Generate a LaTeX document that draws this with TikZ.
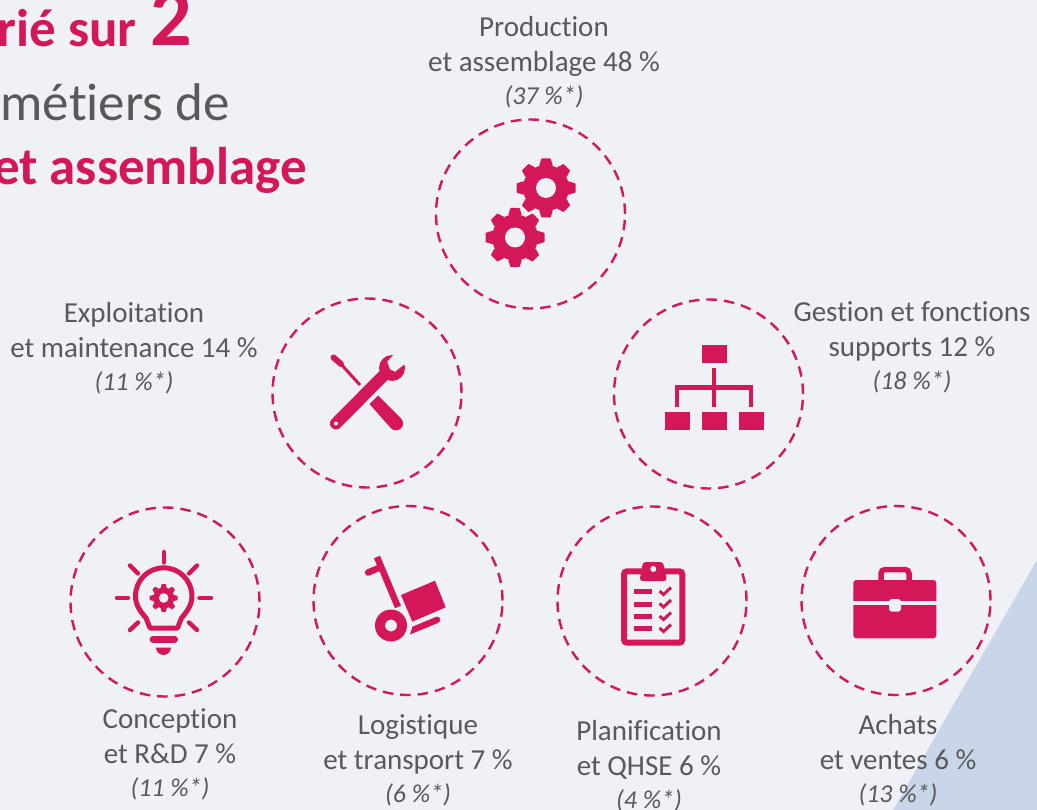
\documentclass[tikz,border=0pt]{standalone}
\usepackage{fontspec}
\setmainfont{Carlito}[Ligatures=NoCommon]
\definecolor{bgc}{HTML}{EFF1F6}
\definecolor{pinkc}{HTML}{D31759}
\definecolor{greyc}{HTML}{595959}
\definecolor{wedge}{HTML}{C9D5E8}
\tikzset{
  ring/.style={circle,draw=pinkc,line width=2.4pt,dash pattern=on 10.5pt off 7pt,minimum size=189pt,inner sep=0pt},
  lab/.style={text=greyc,align=center,anchor=north,inner sep=0pt,font=\fontsize{29}{35}\selectfont},
  ttl/.style={anchor=base east,inner sep=0pt},
}
\newcommand{\gearicon}[5]{% x y outer root hole
  \begin{scope}[shift={(#1,#2)}]
    \fill[pinkc] (0,0) circle (#4);
    \foreach \a in {0,45,...,315}{
      \fill[pinkc,rotate=\a,rounded corners=0.6pt] (#4-1,-0.30*#4) -- (#3,-0.20*#4) -- (#3,0.20*#4) -- (#4-1,0.30*#4) -- cycle;
    }
    \fill[bgc] (0,0) circle (#5);
  \end{scope}}
\newcommand{\pct}[1]{\fontsize{25.8}{30}\selectfont\itshape #1}
\begin{document}
\begin{tikzpicture}[x=1pt,y=-1pt]
\useasboundingbox (0,0) rectangle (1037,810);
\fill[bgc] (0,0) rectangle (1037,810);
\fill[wedge] (1037,560) -- (893,810) -- (1037,810) -- cycle;

% title
\node[ttl,text=pinkc,font=\fontsize{53}{53}\selectfont\bfseries] (t1) at (137,47) {rié sur};
\node[ttl,text=pinkc,font=\fontsize{82}{82}\selectfont\bfseries] (t2) at (192,46) {2};
\node[ttl,text=greyc,font=\fontsize{53}{53}\selectfont] (t3) at (230,121) {métiers de};
\node[ttl,text=pinkc,font=\fontsize{53}{53}\selectfont\bfseries] (t4) at (307,185) {et assemblage};

% rings
\node[ring] (rProd) at (530.5,214) {};
\node[ring] (rExpl) at (367,393) {};
\node[ring] (rGest) at (708.5,394) {};
\node[ring] (rConc) at (165,602) {};
\node[ring] (rLogi) at (408,600.5) {};
\node[ring] (rPlan) at (652,601) {};
\node[ring] (rAcha) at (896,600.5) {};

% labels
\node[lab] (lProd) at (544,16) {Production\\et assemblage 48 \%\\[-2pt]\pct{(37 \%*)}};
\node[lab] (lExpl) at (134,302) {Exploitation\\et maintenance 14 \%\\[-2pt]\pct{(11 \%*)}};
\node[lab] (lGest) at (912,301) {Gestion et fonctions\\supports 12 \%\\[-2pt]\pct{(18 \%*)}};
\node[lab] (lConc) at (170,708) {Conception\\et R\&D 7 \%\\[-2pt]\pct{(11 \%*)}};
\node[lab] (lLogi) at (418,714) {Logistique\\et transport 7 \%\\[-2pt]\pct{(6 \%*)}};
\node[lab] (lPlan) at (649,720) {Planification\\et QHSE 6 \%\\[-2pt]\pct{(4 \%*)}};
\node[lab] (lAcha) at (898,714) {Achats\\et ventes 6 \%\\[-2pt]\pct{(13 \%*)}};

% gears
\gearicon{546}{188}{29.5}{23}{10}
\gearicon{515}{237.5}{29.5}{23}{10}

% tools
\fill[pinkc] (369.5,404) -- (378,395.5) -- (401,418.5) arc (-45:135:7) -- cycle;
\draw[pinkc,line width=3pt] (340,363) -- (360,385);
\draw[pinkc,line width=6pt,line cap=round] (333.5,357.5) -- (341,364);
\draw[pinkc,line width=12pt,line cap=round] (336,423.5) -- (385,374);
\fill[pinkc] (392,368) circle (13);
\fill[bgc] (396,352) -- (387.3,361.7) -- (390,369.3) -- (395,371.7) -- (406,363) -- (410,352) -- cycle;
\fill[bgc] (336,423.5) circle (2);

% org chart
\fill[pinkc] (702,345) rectangle (727,363);
\fill[pinkc] (665,412) rectangle (690,430);
\fill[pinkc] (702,412) rectangle (727,430);
\fill[pinkc] (739,412) rectangle (764,430);
\draw[pinkc,line width=4.6pt] (714,368) -- (714,407);
\draw[pinkc,line width=4.6pt] (677,407) -- (677,387.5) -- (751,387.5) -- (751,407);

% bulb
\foreach \a/\b/\c/\d in {163.7/552/163.7/562.5, 117/598/128/598, 199.5/598/211/598, 130/565.5/138/573.5, 197/565.5/189/573.5, 130/630/138/622.5, 197/630/189/622.5}{
  \draw[pinkc,line width=4.4pt,line cap=round] (\a,\b) -- (\c,\d);
}
\draw[pinkc,line width=5pt,line join=round] (150,628) -- (146,618) .. controls (139,610) and (135.5,604) .. (135.5,596) arc (180:360:28.2) .. controls (191.9,604) and (188.5,610) .. (181.5,618) -- (177.5,628) -- cycle;
\draw[pinkc,line width=7pt,line cap=round] (153,639) -- (174.5,639);
\fill[pinkc] (156,647.5) -- (171,647.5) arc (0:180:7.5) -- cycle;
\gearicon{163.7}{598}{14}{10.5}{4.8}

% hand truck
\draw[pinkc,line width=6.5pt] (377,557) -- (398,607);
\draw[pinkc,line width=6.5pt,line cap=round] (368,572.5) -- (380,567.5);
\fill[pinkc,even odd rule] (391,625.5) circle (16) (391,625.5) circle (6);
\fill[pinkc] (401,595) -- (435,580.7) -- (445.7,607.3) -- (412.3,621.7) -- cycle;
\fill[pinkc] (410,634.5) -- (412.5,626.7) -- (436.5,616.7) .. controls (441,616) and (441,622) .. (438,623) -- cycle;

% clipboard
\draw[pinkc,line width=6pt,rounded corners=3pt] (624,571.3) rectangle (682.3,642.7);
\fill[pinkc,rounded corners=3pt] (639.5,581) -- (643,562) -- (663,562) -- (667,581) -- cycle;
\fill[bgc] (653.3,569) circle (3);
\foreach \y in {589,601.5,614,626}{
  \fill[pinkc] (634,\y) rectangle (652,\y+5);
  \draw[pinkc,line width=3pt] (659.5,\y+2) -- (663.5,\y+5.5) -- (671,\y-1.5);
}

% briefcase
\draw[pinkc,line width=5.5pt,rounded corners=4pt] (881,581) -- (881,569.5) -- (909,569.5) -- (909,581);
\fill[pinkc,rounded corners=3pt] (853.3,580) rectangle (936.3,638.3);
\fill[bgc] (850,600.7) rectangle (940,605);
\fill[bgc,rounded corners=3pt] (889,599) -- (889,611.7) -- (901,611.7) -- (901,599) -- cycle;
\end{tikzpicture}
\end{document}
